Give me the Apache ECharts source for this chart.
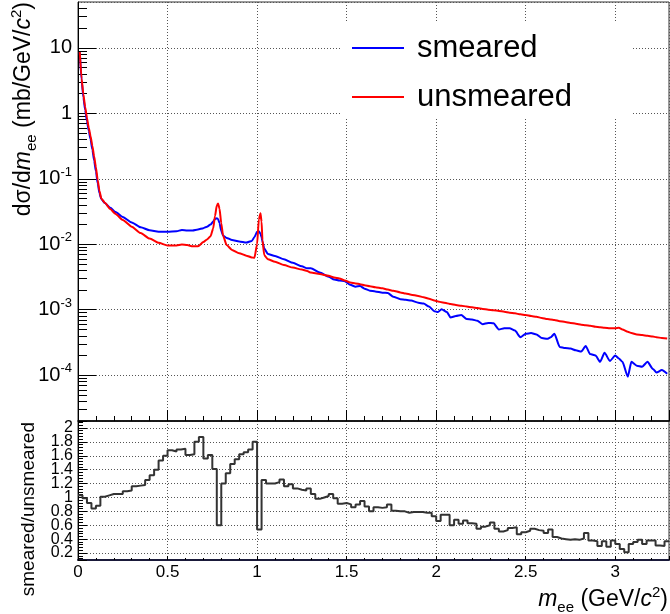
<!DOCTYPE html>
<html><head><meta charset="utf-8">
<script src="https://cdn.jsdelivr.net/npm/echarts@6/dist/echarts.min.js"></script>
<style>html,body{margin:0;padding:0;background:#fff}#c{width:670px;height:614px}</style>
</head><body><div id="c"></div>
<script>
// ---- data ----
const mass = [0.01,0.02,0.03,0.04,0.05,0.06,0.07,0.08,0.09,0.10,0.11,0.12,0.13,0.15,0.18,0.21,0.25,0.30,0.35,0.40,0.45,0.50,0.55,0.58,0.61,0.64,0.67,0.70,0.72,0.74,0.755,0.765,0.775,0.782,0.79,0.80,0.81,0.83,0.86,0.90,0.94,0.97,0.985,1.00,1.01,1.019,1.025,1.03,1.04,1.06,1.10,1.15,1.20,1.25,1.28,1.30,1.35,1.40,1.43,1.46,1.49,1.52,1.55,1.575,1.60,1.63,1.66,1.70,1.73,1.76,1.80,1.83,1.86,1.90,1.93,1.96,1.99,2.01,2.03,2.06,2.08,2.11,2.14,2.17,2.20,2.23,2.26,2.29,2.32,2.35,2.38,2.41,2.44,2.47,2.50,2.53,2.56,2.59,2.62,2.64,2.66,2.69,2.72,2.75,2.78,2.81,2.835,2.86,2.89,2.915,2.94,2.97,3.00,3.02,3.04,3.07,3.09,3.12,3.15,3.18,3.21,3.23,3.26,3.29];
const smeared = [8.5,3.2,1.75,1.12,0.76,0.54,0.40,0.28,0.19,0.13,0.085,0.06,0.049,0.0425,0.036,0.031,0.026,0.0215,0.0182,0.0163,0.0155,0.0155,0.0158,0.0165,0.0162,0.0162,0.0168,0.0176,0.0185,0.0200,0.0222,0.0243,0.025,0.0243,0.021,0.016,0.0135,0.0125,0.0116,0.0110,0.0106,0.0112,0.0128,0.0155,0.0158,0.0145,0.0128,0.0110,0.0086,0.0071,0.0066,0.0059,0.0052,0.0046,0.0043,0.0043,0.0037,0.0032,0.0029,0.0028,0.00272,0.0024,0.00225,0.0023,0.0021,0.00195,0.0019,0.00182,0.0018,0.00158,0.00145,0.00142,0.00138,0.00128,0.00124,0.00112,0.00095,0.00092,0.00102,0.00092,0.00076,0.00080,0.00083,0.00072,0.00071,0.00068,0.00060,0.00063,0.00062,0.00050,0.00052,0.00052,0.00048,0.00038,0.00043,0.00044,0.00042,0.00037,0.00036,0.00038,0.00043,0.00027,0.00026,0.000255,0.00024,0.00023,0.00028,0.00021,0.00020,0.00016,0.00022,0.000165,0.00020,0.00018,0.00016,0.000095,0.00016,0.00014,0.000135,0.00016,0.000125,0.00011,0.00012,0.000105];
const unsmeared = [8.6,3.4,1.95,1.25,0.85,0.60,0.45,0.32,0.22,0.15,0.095,0.065,0.05,0.043,0.0345,0.029,0.0235,0.0185,0.0148,0.0122,0.0105,0.0096,0.0096,0.0099,0.0097,0.0093,0.0093,0.0108,0.0118,0.0132,0.0175,0.027,0.039,0.042,0.035,0.021,0.0135,0.0097,0.0082,0.0073,0.0067,0.0063,0.0062,0.0100,0.024,0.0297,0.022,0.0115,0.0068,0.0059,0.0054,0.0048,0.0044,0.0041,0.0039,0.0037,0.0035,0.0033,0.0031,0.0030,0.0028,0.0026,0.00252,0.00245,0.00236,0.00228,0.0022,0.00212,0.00203,0.00195,0.00184,0.00177,0.0017,0.00162,0.00155,0.00147,0.00138,0.00134,0.0013,0.00126,0.00122,0.00118,0.00115,0.00112,0.00109,0.00106,0.00103,0.00100,0.00098,0.00096,0.00093,0.00090,0.00088,0.00085,0.00083,0.00080,0.00078,0.00075,0.00072,0.00071,0.00070,0.00067,0.00065,0.00063,0.00061,0.00059,0.00058,0.00057,0.00055,0.00054,0.00053,0.00052,0.00052,0.00053,0.00050,0.00046,0.00044,0.00042,0.00041,0.00040,0.00039,0.00038,0.00037,0.000365];
const ratioBinWidth = 0.025;
const ratio = [1.03,0.99,0.92,0.84,0.88,1.01,1.03,1.05,1.05,1.05,1.09,1.10,1.16,1.17,1.18,1.25,1.32,1.40,1.53,1.60,1.68,1.66,1.69,1.70,1.61,1.62,1.80,1.87,1.56,1.61,1.41,0.60,1.20,1.35,1.48,1.55,1.62,1.65,1.69,1.80,0.54,
1.25,1.20,1.20,1.22,1.26,1.16,1.19,1.13,1.11,1.10,1.13,1.05,0.98,1.00,1.02,1.05,0.99,0.91,0.92,0.90,0.86,0.90,0.95,0.87,0.80,
0.86,0.85,0.86,0.90,0.81,0.80,0.80,0.78,0.79,0.79,0.79,0.78,0.78,0.73,0.66,0.75,0.75,0.60,0.68,0.62,0.67,0.63,0.62,0.55,0.58,0.60,0.64,0.55,0.51,0.53,0.56,0.57,0.47,0.50,0.52,0.55,0.53,0.52,0.49,0.54,0.43,0.41,0.40,0.39,0.40,0.39,0.41,0.49,0.38,0.37,0.30,0.37,0.29,0.38,0.33,0.26,0.21,0.33,0.36,0.39,0.33,0.38,0.38,0.31,0.30,0.37];
const seriesNames = ['smeared', 'unsmeared'];
const xRange = [0, 3.3];
const yRangeTop = [2e-5, 50];
const yRangeRatio = [0.1, 2.1];
const decadeMultipliers = [2,3,4,5,6,7,8,9];
const decadeExponents = [-5,-4,-3,-2,-1,0,1];

// ---- build ----
const FONT = '"Liberation Sans", Arial, Helvetica, sans-serif';
const smearedData = mass.map((m, i) => [m, smeared[i]]);
const unsmearedData = mass.map((m, i) => [m, unsmeared[i]]);
const ratioData = ratio.map((r, i) => [+(i * ratioBinWidth).toFixed(4), r]);
ratioData.push([+(ratio.length * ratioBinWidth).toFixed(4), ratio[ratio.length - 1]]);
const logMinor = [];
decadeExponents.forEach(e => decadeMultipliers.forEach(k => {
  const v = k * Math.pow(10, e);
  if (v > yRangeTop[0] * 1.01 && v < yRangeTop[1] * 0.99) logMinor.push(v);
}));

function logFmt(v) {
  const e = Math.round(Math.log10(v));
  if (e === 0) return '{b|1}';
  if (e === 1) return '{b|10}';
  return '{b|10}{s|' + e + '}';
}
const gridLine = { show: true, lineStyle: { color: '#555', width: 1, type: [1, 2] } };
const titleRich = {
  n: { fontSize: 23, lineHeight: 30, fontFamily: FONT, color: '#000' },
  i: { fontSize: 23, lineHeight: 30, fontStyle: 'italic', fontFamily: FONT, color: '#000' },
  sb: { fontSize: 15, lineHeight: 14, verticalAlign: 'bottom', fontFamily: FONT, color: '#000' },
  sp: { fontSize: 15, lineHeight: 22, verticalAlign: 'top', fontFamily: FONT, color: '#000' }
};

const chart = echarts.init(document.getElementById('c'), null, { renderer: 'canvas' });
chart.setOption({
  animation: false,
  backgroundColor: '#fff',
  textStyle: { fontFamily: FONT },
  grid: [
    { left: 78, top: 2, right: 1, height: 419, show: true, borderColor: '#333', borderWidth: 1, outerBoundsMode: 'none' },
    { left: 78, top: 421, right: 1, height: 139, show: true, borderColor: '#333', borderWidth: 1, outerBoundsMode: 'none' }
  ],
  legend: {
    data: seriesNames, orient: 'vertical', left: 340, top: 22,
    padding: [8, 60, 3, 12], itemGap: 13, itemWidth: 52, itemHeight: 2, icon: 'rect',
    backgroundColor: '#fff', selectedMode: false,
    textStyle: { fontSize: 31, lineHeight: 36, color: '#000', fontFamily: FONT, padding: [0, 0, 0, 8] }
  },
  xAxis: [
    { type: 'value', gridIndex: 0, min: xRange[0], max: xRange[1], interval: 0.5,
      axisLine: { show: true, onZero: false, lineStyle: { color: '#000', width: 1.5 } },
      axisTick: { show: true, inside: true, length: 11, lineStyle: { color: '#000' } },
      minorTick: { show: true, splitNumber: 5, length: 5, lineStyle: { color: '#000' } },
      axisLabel: { show: false }, splitLine: gridLine },
    { type: 'value', gridIndex: 1, min: xRange[0], max: xRange[1], interval: 0.5,
      axisLine: { show: true, onZero: false, lineStyle: { color: '#1a1a3a', width: 2 } },
      axisTick: { show: true, inside: true, length: 4, lineStyle: { color: '#000' } },
      minorTick: { show: true, splitNumber: 5, length: 2, lineStyle: { color: '#000' } },
      axisLabel: { fontSize: 17, margin: 4, color: '#000', showMaxLabel: false, fontFamily: FONT },
      splitLine: gridLine }
  ],
  yAxis: [
    { type: 'log', logBase: 10, gridIndex: 0, min: yRangeTop[0], max: yRangeTop[1], position: 'left',
      axisLine: { show: true, onZero: false, lineStyle: { color: '#000', width: 1 } },
      axisTick: { show: true, inside: true, length: 18, lineStyle: { color: '#000' } },
      axisLabel: { margin: 6, showMinLabel: false, showMaxLabel: false, formatter: logFmt, color: '#000',
        rich: { b: { fontSize: 20, lineHeight: 26, fontFamily: FONT, color: '#000' },
                s: { fontSize: 13, lineHeight: 12, verticalAlign: 'top', fontFamily: FONT, color: '#000' } } },
      splitLine: gridLine },
    { type: 'log', logBase: 10, gridIndex: 0, min: yRangeTop[0], max: yRangeTop[1], position: 'left', offset: 0,
      axisLine: { show: false }, axisLabel: { show: false }, splitLine: { show: false },
      axisTick: { show: true, inside: true, length: 9, customValues: logMinor, lineStyle: { color: '#000' } } },
    { type: 'value', gridIndex: 1, min: yRangeRatio[0], max: yRangeRatio[1], splitNumber: 10, position: 'left',
      axisLine: { show: true, onZero: false, lineStyle: { color: '#000', width: 1 } },
      axisTick: { show: true, inside: true, length: 9, lineStyle: { color: '#000' } },
      minorTick: { show: true, splitNumber: 5, length: 5, lineStyle: { color: '#000' } },
      axisLabel: { fontSize: 16, margin: 5, color: '#000', showMinLabel: false, showMaxLabel: false, fontFamily: FONT },
      splitLine: gridLine }
  ],
  series: [
    { name: seriesNames[0], type: 'line', xAxisIndex: 0, yAxisIndex: 0, data: smearedData, symbol: 'none',
      smooth: 0.2, smoothMonotone: 'x', color: '#0000ff', lineStyle: { color: '#0000ff', width: 2 }, z: 3 },
    { name: seriesNames[1], type: 'line', xAxisIndex: 0, yAxisIndex: 0, data: unsmearedData, symbol: 'none',
      smooth: 0.2, smoothMonotone: 'x', color: '#ff0000', lineStyle: { color: '#ff0000', width: 2 }, z: 4 },
    { name: 'ratio', type: 'line', xAxisIndex: 1, yAxisIndex: 2, data: ratioData, step: 'end', symbol: 'none',
      color: '#333', lineStyle: { color: '#333', width: 2 }, z: 3 }
  ],
  graphic: [
    { type: 'text', x: 24, y: 2, rotation: Math.PI / 2, z: 10,
      style: { text: '{n|dσ/d}{i|m}{sb|ee}{n| (mb/GeV/}{i|c}{sp|2}{n|)}', align: 'right', verticalAlign: 'middle', rich: titleRich } },
    { type: 'text', x: 29, y: 422, rotation: Math.PI / 2, z: 10,
      style: { text: 'smeared/unsmeared', align: 'right', verticalAlign: 'middle', fontSize: 19, fontFamily: FONT, fill: '#000' } },
    { type: 'text', x: 668, y: 600, z: 10,
      style: { text: '{i|m}{sb|ee}{n| (GeV/}{i|c}{sp|2}{n|)}', align: 'right', verticalAlign: 'middle', rich: titleRich } }
  ]
});
</script></body></html>
